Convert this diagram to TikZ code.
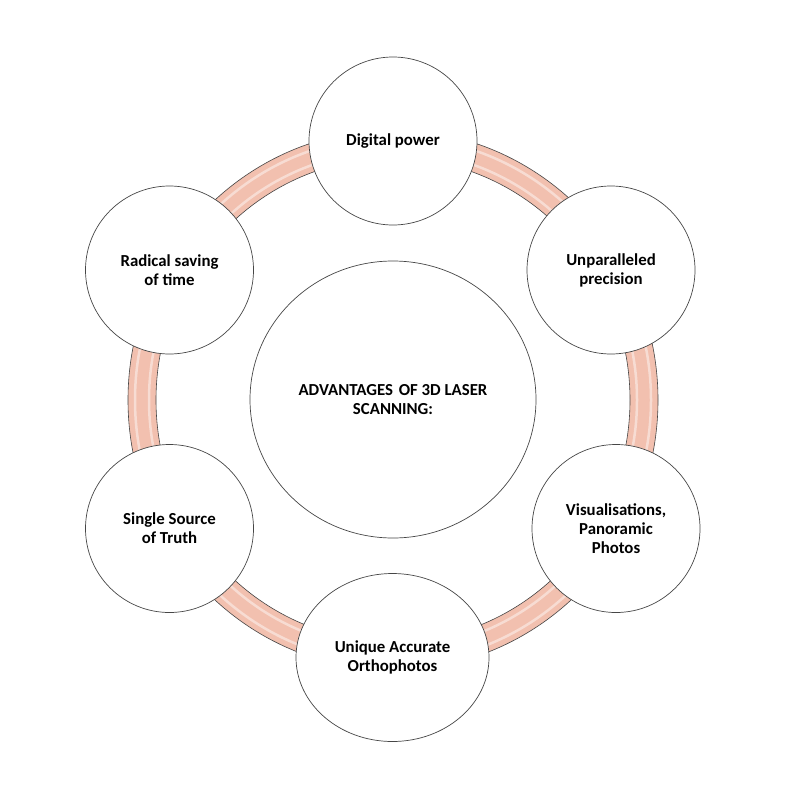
\documentclass[tikz,border=0pt]{standalone}
\usepackage{fontspec}
\setmainfont{Carlito}
\usetikzlibrary{shapes.geometric}
\definecolor{ringfill}{RGB}{242,192,175}
\definecolor{ringedge}{RGB}{70,70,70}
\begin{document}
\begin{tikzpicture}[x=1pt,y=-1pt,
  item/.style={ellipse, draw=ringedge, line width=0.7pt, fill=white,
    minimum width=168pt, minimum height=168pt, inner sep=0pt, align=center,
    font=\bfseries\fontsize{16.8}{19}\selectfont}]
\useasboundingbox (0,0) rectangle (800,800);
\fill[white] (0,0) rectangle (800,800);
\coordinate (O) at (393,400);
% ring
\draw[ringfill, line width=28pt] (O) ellipse [x radius=251, y radius=256];
\draw[white, opacity=0.45, line width=2.5pt] (O) ellipse [x radius=258, y radius=263];
\draw[white, opacity=0.45, line width=2.5pt] (O) ellipse [x radius=244, y radius=249];
\draw[ringedge, line width=0.6pt] (O) ellipse [x radius=265, y radius=270];
\draw[ringedge, line width=0.6pt] (O) ellipse [x radius=237, y radius=242];
% nodes
\node[item] (top) at (393,141) {Digital power};
\node[item] (ur) at (611,270) {Unparalleled\\precision};
\node[item] (lr) at (616,528.5) {Visualisations,\\Panoramic\\Photos};
\node[item, minimum width=193pt] (bot) at (392.5,657.5) {Unique Accurate\\Orthophotos};
\node[item] (ll) at (169.5,528.5) {Single Source\\of Truth};
\node[item] (ul) at (169.5,270) {Radical saving\\of time};
\node[item, minimum width=286pt, minimum height=277pt] (c) at (393,399.5) {ADVANTAGES\hspace{2pt} OF 3D LASER\\SCANNING:};
\end{tikzpicture}
\end{document}
